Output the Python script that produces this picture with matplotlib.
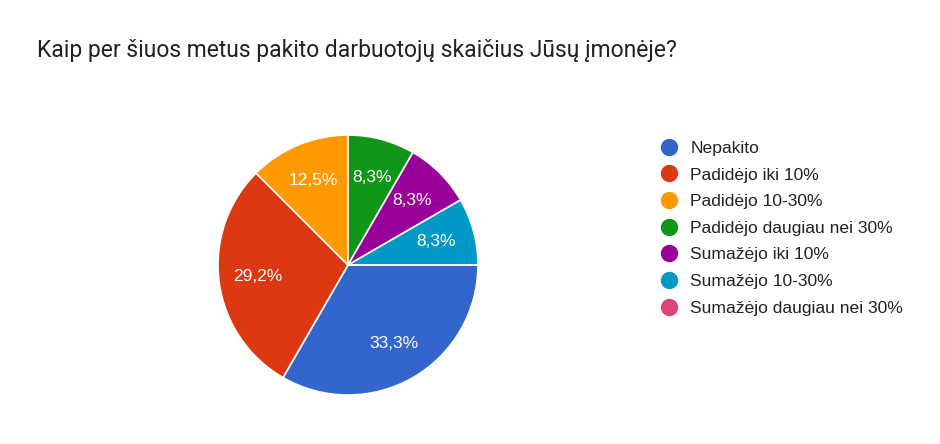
import matplotlib.pyplot as plt
from matplotlib.lines import Line2D

plt.rcParams['font.family'] = ['Liberation Sans', 'DejaVu Sans']

title = "Kaip per šiuos metus pakito darbuotojų skaičius Jūsų įmonėje?"
categories = ["Nepakito", "Padidėjo iki 10%", "Padidėjo 10-30%",
              "Padidėjo daugiau nei 30%", "Sumažėjo iki 10%",
              "Sumažėjo 10-30%", "Sumažėjo daugiau nei 30%"]
# answer counts (24 respondents)
counts = [8, 7, 3, 2, 2, 2, 0]
colors = ["#3366CC", "#DC3912", "#FF9900", "#109618",
          "#990099", "#0099C6", "#DD4477"]

W, H = 940, 444
fig = plt.figure(figsize=(W / 100, H / 100), dpi=100)

# pie centre ~ (348, 265) px, radius ~130 px
cx, cy, r = 348, 265, 130
ax = fig.add_axes([(cx - r) / W, (H - cy - r) / H, 2 * r / W, 2 * r / H])


def fmt(p):
    if p < 0.05:
        return ""
    return f"{p:.1f}".replace(".", ",") + "%"


wedges, texts, autotexts = ax.pie(
    counts, colors=colors, startangle=0, counterclock=False,
    autopct=fmt, pctdistance=0.7, radius=1,
    wedgeprops=dict(edgecolor="white", linewidth=1.2),
    textprops=dict(color="white", fontsize=12.5))
ax.set_xlim(-1, 1)
ax.set_ylim(-1, 1)
ax.set_aspect("equal")
ax.axis("off")

fig.text(37 / W, 1 - 50 / H, title, fontsize=16.5, color="#202124",
         va="center", ha="left", family=["Roboto", "DejaVu Sans"])

handles = [Line2D([], [], marker="o", linestyle="", markersize=11.5,
                  markerfacecolor=c, markeredgecolor=c) for c in colors]
fig.legend(handles, categories, loc="upper left",
           bbox_to_anchor=(643 / W, 1 - 125 / H), frameon=False,
           fontsize=12.6, labelspacing=0.65, handletextpad=0.6,
           handlelength=1.2, labelcolor="#222222")

fig.savefig("out.png", dpi=100, facecolor="white")
